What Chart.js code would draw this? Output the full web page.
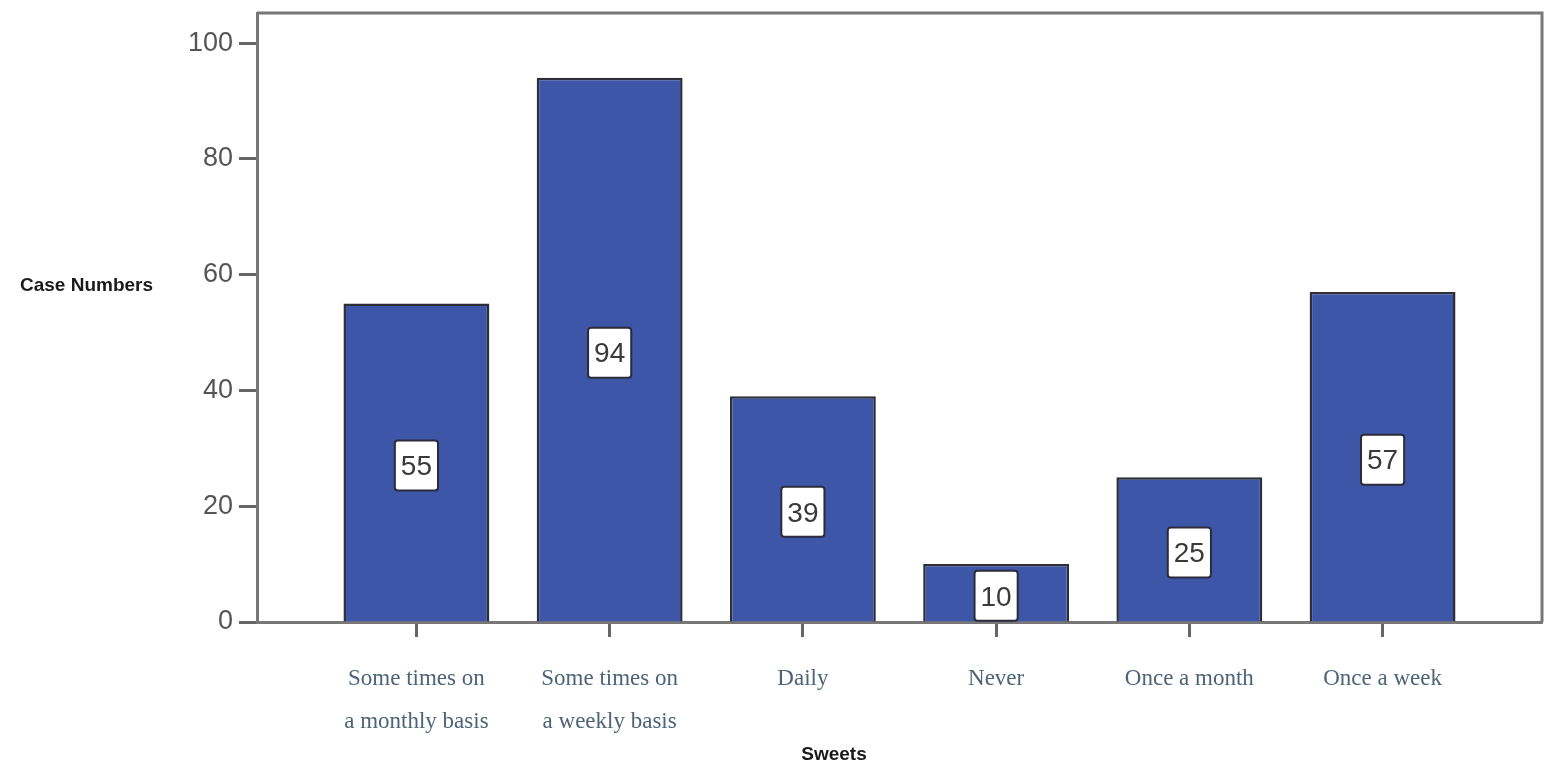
<!DOCTYPE html>
<html>
<head>
<meta charset="utf-8">
<script src="https://cdn.jsdelivr.net/npm/chart.js@4"></script>
<style>
  html, body { margin: 0; padding: 0; background: #fff; }
  #wrap { width: 1558px; height: 780px; position: relative; }
</style>
</head>
<body>
<div id="wrap"><canvas id="canvas-barchart" width="1558" height="780"></canvas></div>
<script>
// data
const categories = [
    ['Some times on', 'a monthly basis'],
    ['Some times on', 'a weekly basis'],
    'Daily',
    'Never',
    'Once a month',
    'Once a week'
];
const caseNumbers = [55, 94, 39, 10, 25, 57];
const yTicks = [0, 20, 40, 60, 80, 100];

const xTitle = 'Sweets';
const yTitle = 'Case Numbers';

// frame on top / right plus axis titles and boxed value labels
const extras = {
    id: 'extras',
    beforeDatasetsDraw(chart) {
        const ctx = chart.ctx;
        const a = chart.chartArea;
        ctx.save();
        ctx.strokeStyle = '#777';
        ctx.lineWidth = 3;
        ctx.beginPath();
        ctx.moveTo(a.left, a.top);
        ctx.lineTo(a.right, a.top);
        ctx.lineTo(a.right, a.bottom);
        ctx.stroke();
        ctx.restore();
    },
    afterDraw(chart) {
        const ctx = chart.ctx;
        ctx.save();
        ctx.fillStyle = '#1a1a1a';
        ctx.font = 'bold 19px "Liberation Sans", Arial, sans-serif';
        ctx.textAlign = 'center';
        ctx.textBaseline = 'middle';
        ctx.fillText(xTitle, 834, 755);
        ctx.textAlign = 'left';
        ctx.fillText(yTitle, 20, 286);

        const meta = chart.getDatasetMeta(0);
        ctx.font = '28px "Liberation Sans", Arial, sans-serif';
        meta.data.forEach((bar, i) => {
            const p = bar.getProps(['x', 'y', 'base'], true);
            const cy = (p.y + p.base) / 2 + 3;
            const txt = String(caseNumbers[i]);
            const w = ctx.measureText(txt).width + 12;
            const h = 50;
            ctx.beginPath();
            ctx.roundRect(p.x - w / 2, cy - h / 2, w, h, 3);
            ctx.fillStyle = '#fff';
            ctx.fill();
            ctx.lineWidth = 2;
            ctx.strokeStyle = '#2b2b3a';
            ctx.stroke();
            ctx.fillStyle = '#3a3a3a';
            ctx.textAlign = 'center';
            ctx.fillText(txt, p.x, cy + 2);
        });
        ctx.restore();
    }
};

const canvas = document.getElementById('canvas-barchart');
var ctx = canvas.getContext('2d');
new Chart(ctx, {
    type: 'bar',
    data: {
        datasets: [{
            label: yTitle,
            data: caseNumbers.map((v, i) => ({ x: i, y: v })),
            backgroundColor: '#3e56a7',
            borderColor: '#2e2e38',
            borderWidth: 2.5,
            borderSkipped: 'bottom',
            barPercentage: 0.755,
            categoryPercentage: 1
        }]
    },
    options: {
        responsive: false,
        animation: false,
        layout: { padding: { top: 13, right: 16, left: 0, bottom: 0 } },
        plugins: {
            legend: { display: false },
            tooltip: { enabled: false }
        },
        scales: {
            x: {
                type: 'linear',
                offset: false,
                min: -0.825,
                max: categories.length - 1 + 0.825,
                afterBuildTicks: (scale) => { scale.ticks = categories.map((_, i) => ({ value: i })); },
                afterFit: (scale) => { scale.height = 158; scale.paddingLeft = 0; scale.paddingRight = 0; },
                grid: {
                    offset: false,
                    drawOnChartArea: false,
                    drawTicks: true,
                    tickLength: 15,
                    tickWidth: 3,
                    tickColor: '#666'
                },
                border: { display: true, color: '#777', width: 3 },
                ticks: {
                    autoSkip: false,
                    maxRotation: 0,
                    padding: 20,
                    color: '#4d6478',
                    font: { family: '"Liberation Serif", "Times New Roman", serif', size: 23, lineHeight: 1.87 },
                    callback: (value) => categories[value]
                }
            },
            y: {
                min: 0,
                max: 105.2,
                afterBuildTicks: (scale) => { scale.ticks = yTicks.map(v => ({ value: v })); },
                afterFit: (scale) => { scale.width = 257; scale.paddingTop = 0; scale.paddingBottom = 0; },
                grid: {
                    drawOnChartArea: false,
                    drawTicks: true,
                    tickLength: 18,
                    tickWidth: 3,
                    tickColor: '#666'
                },
                border: { display: true, color: '#777', width: 3 },
                ticks: {
                    padding: 6,
                    color: '#555',
                    font: { family: '"Liberation Sans", Arial, sans-serif', size: 27 }
                }
            }
        }
    },
    plugins: [extras]
});
</script>
</body>
</html>
